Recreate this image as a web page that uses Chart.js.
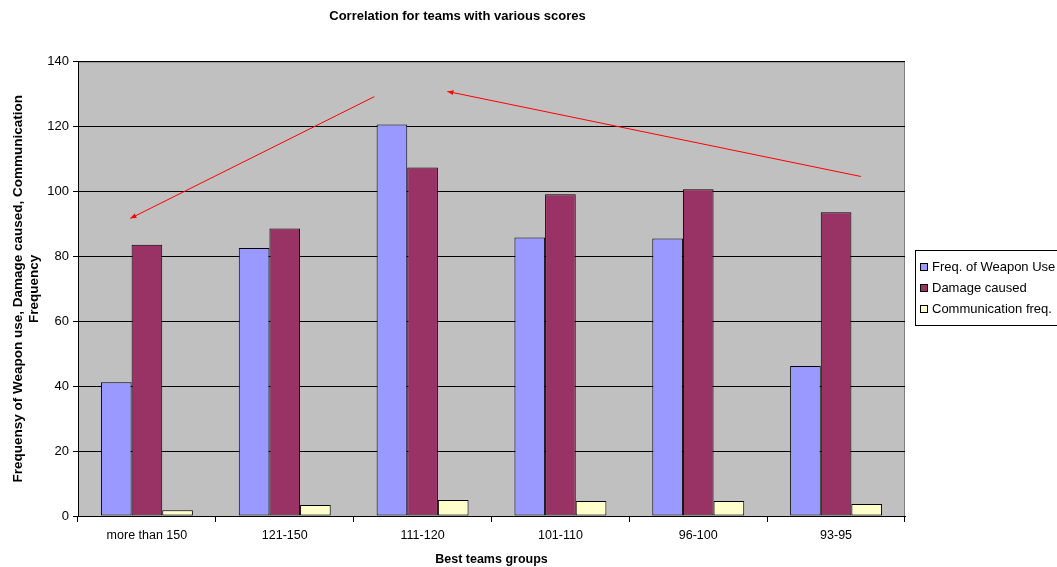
<!DOCTYPE html>
<html>
<head>
<meta charset="utf-8">
<script src="https://cdn.jsdelivr.net/npm/chart.js@4.4.0/dist/chart.umd.min.js"></script>
<style>
  html, body { margin: 0; padding: 0; background: #fff; }
  #wrap { width: 1057px; height: 567px; position: relative; }
</style>
</head>
<body>
<div id="wrap"><canvas id="chart"></canvas></div>
<script>
const categories = ['more than 150', '121-150', '111-120', '101-110', '96-100', '93-95'];
const weaponUse = [41.2, 82.6, 120.6, 85.8, 85.5, 46.2];
const damageCaused = [83.6, 88.6, 107.4, 99.1, 100.7, 93.6];
const commFreq = [1.8, 3.4, 4.9, 4.6, 4.6, 3.7];
const yTicks = [0, 20, 40, 60, 80, 100, 120, 140];
// trend arrows, in [category index, value] units: from -> to (head at "to")
const arrows = [
  [[1.65, 129.2], [-0.12, 91.7]],
  [[5.18, 104.6], [2.18, 130.8]]
];

const FONT = "Arial, 'Liberation Sans', sans-serif";
Chart.defaults.font.family = FONT;
Chart.defaults.color = '#000';

const plotBg = {
  id: 'plotBg',
  beforeDraw(chart) {
    const { ctx, chartArea: a } = chart;
    ctx.save();
    ctx.fillStyle = '#c0c0c0';
    ctx.fillRect(a.left, a.top, a.right - a.left, a.bottom - a.top);
    ctx.strokeStyle = '#808080';
    ctx.lineWidth = 1;
    ctx.strokeRect(a.left + 0.5, a.top + 0.5, a.right - a.left - 1, a.bottom - a.top);
    ctx.restore();
  }
};

const trendArrows = {
  id: 'trendArrows',
  afterDatasetsDraw(chart) {
    const { ctx, scales: { x, y } } = chart;
    ctx.save();
    ctx.strokeStyle = '#ff0000';
    ctx.fillStyle = '#ff0000';
    ctx.lineWidth = 1;
    arrows.forEach(([from, to]) => {
      const x1 = x.getPixelForValue(from[0]), y1 = y.getPixelForValue(from[1]);
      const x2 = x.getPixelForValue(to[0]), y2 = y.getPixelForValue(to[1]);
      ctx.beginPath();
      ctx.moveTo(x1, y1);
      ctx.lineTo(x2, y2);
      ctx.stroke();
      const ang = Math.atan2(y2 - y1, x2 - x1);
      const len = 6, w = 2.5;
      ctx.beginPath();
      ctx.moveTo(x2, y2);
      ctx.lineTo(x2 - len * Math.cos(ang) + w * Math.sin(ang), y2 - len * Math.sin(ang) - w * Math.cos(ang));
      ctx.lineTo(x2 - len * Math.cos(ang) - w * Math.sin(ang), y2 - len * Math.sin(ang) + w * Math.cos(ang));
      ctx.closePath();
      ctx.fill();
    });
    ctx.restore();
  }
};

const boxLegend = {
  id: 'boxLegend',
  afterDraw(chart) {
    const { ctx } = chart;
    const left = 915, top = 250, rowH = 21;
    ctx.save();
    ctx.strokeStyle = '#000';
    ctx.lineWidth = 1;
    ctx.strokeRect(left + 0.5, top + 0.5, 160, 75);
    ctx.font = '13px ' + FONT;
    ctx.textBaseline = 'middle';
    chart.data.datasets.forEach((ds, i) => {
      const cy = top + 17 + i * rowH;
      ctx.fillStyle = ds.backgroundColor;
      ctx.fillRect(left + 5.5, cy - 3.5, 7, 7);
      ctx.strokeRect(left + 5.5, cy - 3.5, 7, 7);
      ctx.fillStyle = '#000';
      ctx.fillText(ds.label, left + 17, cy);
    });
    ctx.restore();
  }
};

new Chart(document.getElementById('chart'), {
  type: 'bar',
  data: {
    labels: categories,
    datasets: [
      { label: 'Freq. of Weapon Use', data: weaponUse, backgroundColor: '#9999ff' },
      { label: 'Damage caused', data: damageCaused, backgroundColor: '#993366' },
      { label: 'Communication freq.', data: commFreq, backgroundColor: '#ffffcc' }
    ]
  },
  options: {
    responsive: true,
    maintainAspectRatio: false,
    animation: false,
    layout: { padding: { left: 10, right: 152, top: 0, bottom: 0 } },
    datasets: {
      bar: { borderColor: '#000', borderWidth: 1, borderSkipped: false, barPercentage: 1, categoryPercentage: 0.667 }
    },
    plugins: {
      legend: { display: false },
      tooltip: { enabled: false },
      title: {
        display: true,
        text: 'Correlation for teams with various scores',
        font: { size: 13, weight: 'bold' },
        color: '#000',
        padding: { top: 9, bottom: 37 }
      }
    },
    scales: {
      x: {
        grid: { display: true, drawOnChartArea: false, color: '#000', tickLength: 6, offset: true },
        border: { color: '#000' },
        ticks: { font: { size: 12.5 }, padding: 6 },
        title: { display: true, text: 'Best teams groups', font: { size: 12.5, weight: 'bold' }, padding: { top: 10, bottom: 0 } },
        afterFit(s) { s.height = 51; }
      },
      y: {
        min: 0,
        max: 140,
        afterBuildTicks(s) { s.ticks = yTicks.map(v => ({ value: v })); },
        grid: { color: '#000', tickLength: 5 },
        border: { color: '#000' },
        ticks: { font: { size: 13 }, padding: 4 },
        title: {
          display: true,
          text: ['Frequensy of Weapon use, Damage caused, Communication', 'Frequency'],
          font: { size: 13.5, weight: 'bold' },
          padding: { top: 0, bottom: 4 }
        },
        afterFit(s) { s.width = 68; }
      }
    }
  },
  plugins: [plotBg, trendArrows, boxLegend]
});
</script>
</body>
</html>
